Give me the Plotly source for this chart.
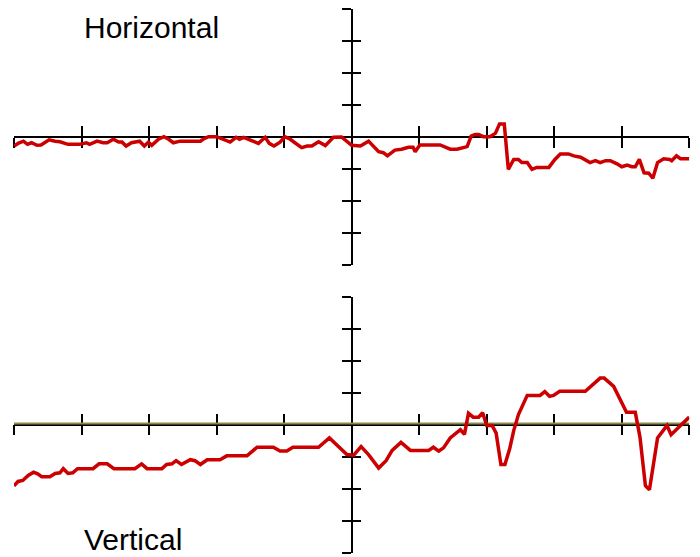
import plotly.graph_objects as go

# ---- data ----
top_x = [-5.00, -4.94, -4.86, -4.80, -4.74, -4.66, -4.60, -4.48, -4.39, -4.32,
         -4.20, -4.03, -3.93, -3.88, -3.77, -3.68, -3.62, -3.53, -3.45, -3.40,
         -3.34, -3.26, -3.14, -3.07, -3.01, -2.96, -2.86, -2.78, -2.71, -2.64,
         -2.54, -2.24, -2.20, -2.12, -2.00, -1.90, -1.80, -1.71, -1.66, -1.60,
         -1.50, -1.38, -1.28, -1.22, -1.15, -1.06, -0.99, -0.91, -0.84, -0.74,
         -0.66, -0.59, -0.49, -0.39, -0.27, -0.15, 0.00, 0.13, 0.25, 0.40,
         0.47, 0.53, 0.64, 0.74, 0.84, 0.91, 0.94, 1.01, 1.31, 1.46,
         1.56, 1.66, 1.71, 1.77, 1.83, 1.88, 1.95, 2.05, 2.13, 2.19,
         2.26, 2.32, 2.40, 2.47, 2.52, 2.60, 2.67, 2.74, 2.92, 3.01,
         3.09, 3.21, 3.29, 3.39, 3.46, 3.53, 3.61, 3.68, 3.76, 3.83,
         3.93, 4.00, 4.08, 4.15, 4.20, 4.26, 4.33, 4.40, 4.46, 4.53,
         4.62, 4.71, 4.74, 4.81, 4.87, 5.00]
top_y = [-0.28, -0.20, -0.13, -0.23, -0.18, -0.26, -0.25, -0.09, -0.13, -0.15,
         -0.23, -0.23, -0.18, -0.23, -0.13, -0.18, -0.18, -0.07, -0.16, -0.16,
         -0.28, -0.18, -0.13, -0.28, -0.16, -0.26, -0.07, 0.01, -0.07, -0.18,
         -0.13, -0.13, -0.07, 0.01, 0.01, -0.07, -0.16, -0.01, -0.07, -0.01,
         -0.09, -0.20, -0.01, -0.20, -0.28, -0.16, 0.01, -0.07, -0.18, -0.33,
         -0.28, -0.28, -0.15, -0.27, -0.01, 0.00, -0.26, -0.28, -0.13, -0.46,
         -0.49, -0.59, -0.41, -0.38, -0.32, -0.32, -0.46, -0.25, -0.25, -0.38,
         -0.38, -0.32, -0.30, 0.03, 0.08, 0.08, 0.01, 0.01, 0.12, 0.41,
         0.41, -1.01, -0.70, -0.70, -0.80, -0.80, -1.01, -0.95, -0.95, -0.70,
         -0.53, -0.53, -0.59, -0.63, -0.70, -0.80, -0.74, -0.80, -0.74, -0.74,
         -0.84, -0.93, -0.88, -0.93, -0.93, -0.70, -1.12, -1.13, -1.29, -0.80,
         -0.68, -0.70, -0.74, -0.59, -0.68, -0.68]

bot_x = [-5.00, -4.94, -4.87, -4.79, -4.71, -4.65, -4.59, -4.47, -4.39, -4.32,
         -4.27, -4.20, -4.13, -4.06, -3.83, -3.74, -3.62, -3.52, -3.21, -3.11,
         -3.03, -2.81, -2.74, -2.66, -2.60, -2.52, -2.39, -2.32, -2.24, -2.14,
         -1.95, -1.85, -1.55, -1.40, -1.16, -1.06, -0.96, -0.87, -0.49, -0.33,
         -0.07, 0.03, 0.14, 0.25, 0.40, 0.51, 0.60, 0.73, 0.87, 1.14,
         1.21, 1.29, 1.36, 1.46, 1.61, 1.67, 1.73, 1.80, 1.88, 1.94,
         2.00, 2.08, 2.14, 2.21, 2.27, 2.34, 2.40, 2.47, 2.60, 2.79,
         2.86, 2.93, 2.99, 3.08, 3.46, 3.58, 3.68, 3.74, 3.88, 4.07,
         4.20, 4.27, 4.35, 4.41, 4.53, 4.67, 4.73, 4.87, 5.00]
bot_y = [-1.92, -1.78, -1.75, -1.59, -1.49, -1.54, -1.63, -1.63, -1.53, -1.51,
         -1.38, -1.53, -1.51, -1.38, -1.38, -1.23, -1.23, -1.38, -1.38, -1.23,
         -1.38, -1.38, -1.25, -1.23, -1.13, -1.25, -1.10, -1.13, -1.25, -1.10,
         -1.10, -0.98, -0.98, -0.71, -0.71, -0.83, -0.83, -0.71, -0.71, -0.42,
         -0.94, -0.96, -0.69, -0.94, -1.36, -1.13, -0.81, -0.56, -0.81, -0.81,
         -0.71, -0.83, -0.73, -0.42, -0.16, -0.31, 0.35, 0.23, 0.23, 0.37,
         -0.03, -0.03, -0.27, -1.25, -1.25, -0.76, -0.19, 0.31, 0.91, 0.91,
         1.03, 0.88, 0.91, 1.04, 1.04, 1.25, 1.45, 1.45, 1.19, 0.38,
         0.38, -0.40, -1.91, -2.04, -0.42, -0.03, -0.32, -0.03, 0.23]

ref_x = [-5.0, 5.0]
ref_y = [0.03, 0.03]

tick_x = [-5, -4, -3, -2, -1, 0, 1, 2, 3, 4, 5]
tick_y = [-4, -3, -2, -1, 0, 1, 2, 3, 4]

titles = ["Horizontal", "Vertical"]

# ---- geometry ----
W, H = 700, 557
x_dom = [14 / W, 689.3 / W]
top_dom = [1 - 265 / H, 1 - 9 / H]
bot_dom = [1 - 552.5 / H, 1 - 296.5 / H]
x_center = 351.65 / W
RED = "#cc0000"
OLIVE = "#8c8c4a"

fig = go.Figure()
fig.add_trace(go.Scatter(x=top_x, y=top_y, xaxis="x", yaxis="y", mode="lines",
                         line=dict(color=RED, width=3.5), hoverinfo="skip"))
fig.add_trace(go.Scatter(x=ref_x, y=ref_y, xaxis="x3", yaxis="y3", mode="lines",
                         line=dict(color=OLIVE, width=2), hoverinfo="skip"))
fig.add_trace(go.Scatter(x=bot_x, y=bot_y, xaxis="x3", yaxis="y3", mode="lines",
                         line=dict(color=RED, width=3.5), hoverinfo="skip"))
# empty traces to instantiate the overlay axes (ticks on the other side)
fig.add_trace(go.Scatter(x=[None], y=[None], xaxis="x2", yaxis="y2", mode="lines"))
fig.add_trace(go.Scatter(x=[None], y=[None], xaxis="x4", yaxis="y4", mode="lines"))


def xax(pos, ticks, overlay=None):
    d = dict(domain=x_dom, range=[-5, 5], anchor="free", position=pos,
             showline=True, linecolor="black", linewidth=1.5,
             ticks=ticks, ticklen=10, tickwidth=1.5, tickcolor="black",
             tickvals=tick_x, showticklabels=False, showgrid=False,
             zeroline=False, fixedrange=True, layer="below traces")
    if overlay:
        d["overlaying"] = overlay
    return d


def yax(dom, ticks, overlay=None):
    d = dict(domain=dom, range=[-4, 4], anchor="free", position=x_center,
             showline=True, linecolor="black", linewidth=1.5,
             ticks=ticks, ticklen=9, tickwidth=1.5, tickcolor="black",
             tickvals=tick_y, showticklabels=False, showgrid=False,
             zeroline=False, fixedrange=True, layer="below traces")
    if overlay:
        d["overlaying"] = overlay
    return d


top_mid = (top_dom[0] + top_dom[1]) / 2
bot_mid = (bot_dom[0] + bot_dom[1]) / 2

fig.update_layout(
    width=W, height=H,
    margin=dict(l=0, r=0, t=0, b=0),
    paper_bgcolor="white", plot_bgcolor="rgba(0,0,0,0)",
    showlegend=False,
    xaxis=xax(top_mid, "outside"),
    xaxis2=xax(top_mid, "inside", "x"),
    xaxis3=xax(bot_mid, "outside"),
    xaxis4=xax(bot_mid, "inside", "x3"),
    yaxis=yax(top_dom, "outside"),
    yaxis2=yax(top_dom, "inside", "y"),
    yaxis3=yax(bot_dom, "outside"),
    yaxis4=yax(bot_dom, "inside", "y3"),
    annotations=[
        dict(text=titles[0], x=82 / W, y=1 - 27.5 / H, xref="paper", yref="paper",
             xanchor="left", yanchor="middle", showarrow=False,
             font=dict(family="Liberation Sans, Arial", size=30, color="black")),
        dict(text=titles[1], x=82 / W, y=1 - 539.6 / H, xref="paper", yref="paper",
             xanchor="left", yanchor="middle", showarrow=False,
             font=dict(family="Liberation Sans, Arial", size=30, color="black")),
    ],
)

fig.write_html("out.html",
               config={"displayModeBar": False},
               post_script="document.body.style.margin='0';"
                           "document.body.style.padding='0';"
                           "document.body.style.overflow='hidden';")
